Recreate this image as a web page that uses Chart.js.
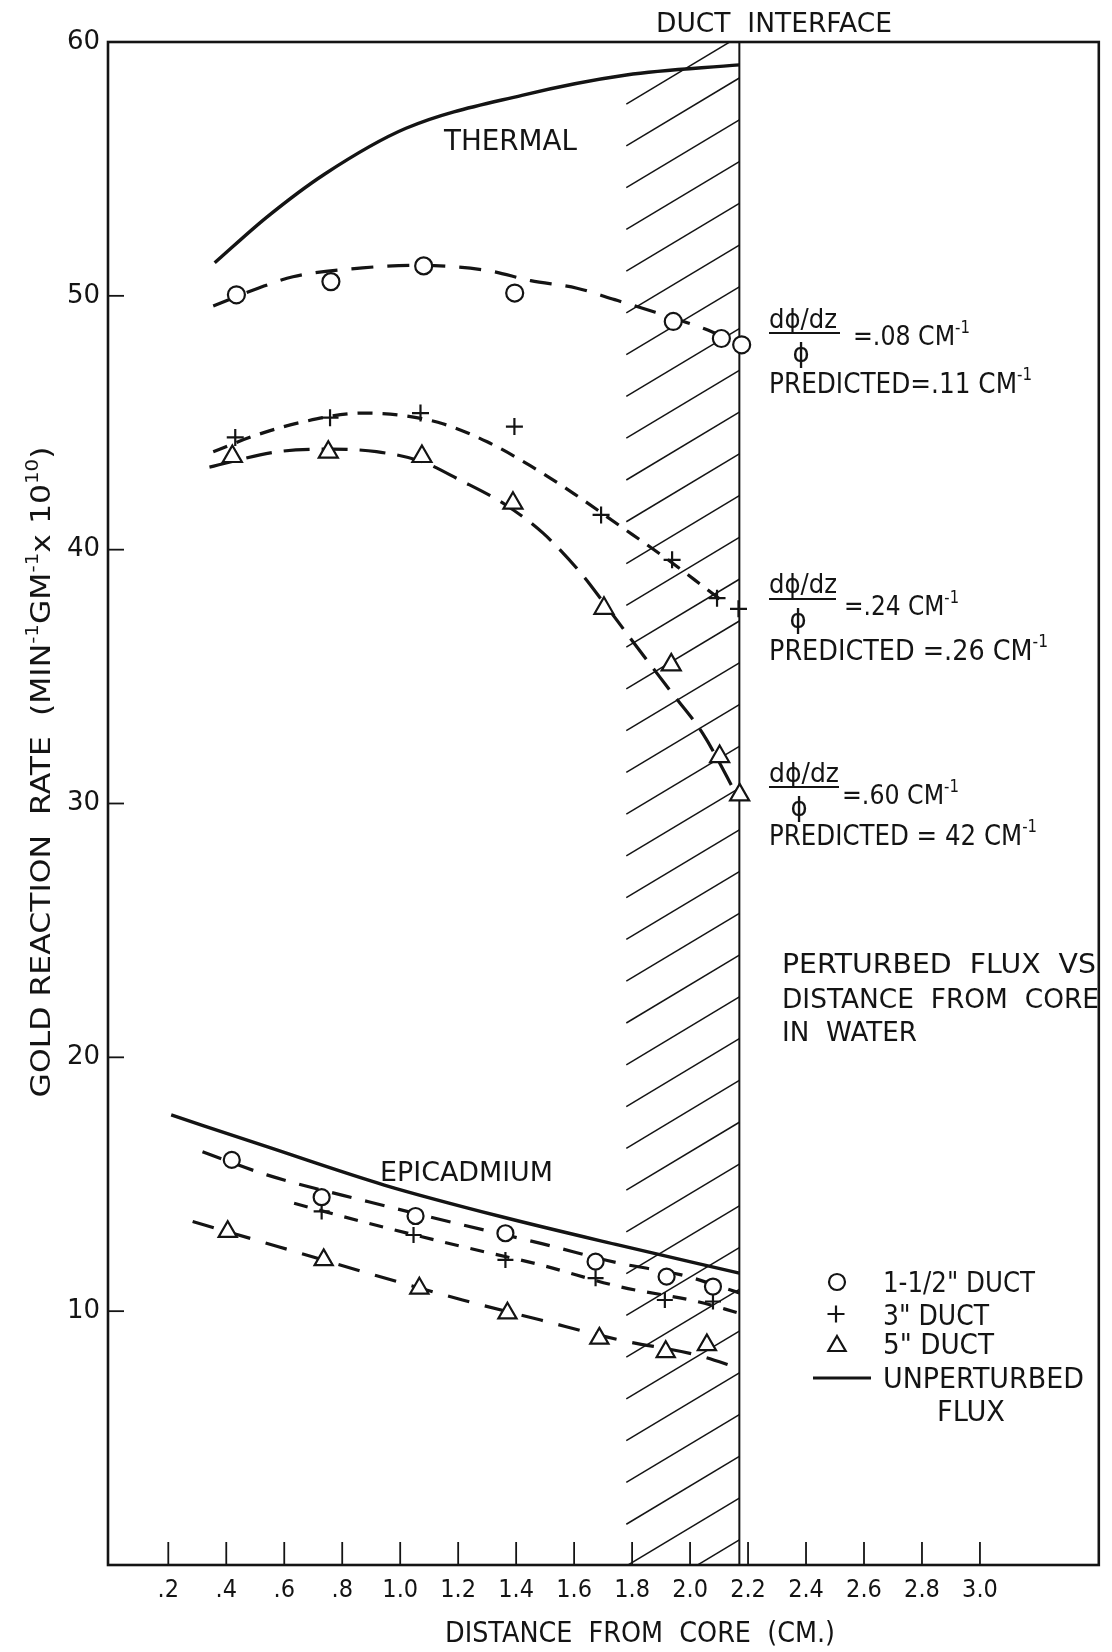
<!DOCTYPE html>
<html>
<head>
<meta charset="utf-8">
<script src="https://cdn.jsdelivr.net/npm/chart.js@4.4.1/dist/chart.umd.min.js"></script>
<style>
  html, body { margin: 0; padding: 0; background: #ffffff; }
  canvas { display: block; }
</style>
</head>
<body>
<canvas id="chart" width="1112" height="1652"></canvas>
<script>
// ---------------- axes ----------------
const xTickValues = [0.2, 0.4, 0.6, 0.8, 1.0, 1.2, 1.4, 1.6, 1.8, 2.0, 2.2, 2.4, 2.6, 2.8, 3.0];
const xTickLabels = ['.2', '.4', '.6', '.8', '1.0', '1.2', '1.4', '1.6', '1.8', '2.0', '2.2', '2.4', '2.6', '2.8', '3.0'];
const yTickValues = [10, 20, 30, 40, 50, 60];
const yTickLabels = ['10', '20', '30', '40', '50', '60'];
const ductInterfaceX = 2.17;   // cm
const hatchStartX = 1.78;      // cm

// ---------------- thermal ----------------
const thermalUnpertX = [0.36, 0.54, 0.74, 1.02, 1.42, 1.78, 2.17];
const thermalUnpertY = [51.3, 53.1, 54.8, 56.6, 57.9, 58.7, 59.1];

const thermalDuct15X = [0.435, 0.761, 1.081, 1.395, 1.942, 2.108, 2.178];
const thermalDuct15Y = [50.04, 50.56, 51.18, 50.11, 48.99, 48.32, 48.07];
const thermalFit15X = [0.355, 0.51, 0.63, 0.87, 1.05, 1.30, 1.45, 1.61, 1.74, 1.88, 2.05, 2.17];
const thermalFit15Y = [49.6, 50.3, 50.75, 51.1, 51.2, 51.0, 50.6, 50.3, 49.85, 49.35, 48.7, 48.1];

const thermalDuct3X = [0.431, 0.758, 1.070, 1.394, 1.693, 1.938, 2.093, 2.167];
const thermalDuct3Y = [44.42, 45.20, 45.38, 44.85, 41.37, 39.60, 38.09, 37.67];
const thermalFit3X = [0.355, 0.50, 0.67, 0.87, 1.0, 1.15, 1.30, 1.45, 1.60, 1.75, 1.90, 2.04, 2.12];
const thermalFit3Y = [43.86, 44.5, 45.05, 45.38, 45.3, 44.95, 44.25, 43.3, 42.2, 41.0, 39.8, 38.6, 37.9];

const thermalDuct5X = [0.421, 0.752, 1.075, 1.389, 1.703, 1.935, 2.102, 2.171];
const thermalDuct5Y = [43.67, 43.84, 43.67, 41.83, 37.69, 35.46, 31.85, 30.34];
const thermalFit5X = [0.342, 0.578, 0.761, 0.918, 1.075, 1.205, 1.363, 1.493, 1.624, 1.703, 1.807, 1.938, 2.043, 2.17];
const thermalFit5Y = [43.25, 43.86, 43.96, 43.86, 43.47, 42.75, 41.77, 40.65, 39.07, 37.9, 36.31, 34.35, 32.77, 30.14];

// ---------------- epicadmium ----------------
const epiUnpertX = [0.21, 0.54, 0.945, 1.35, 1.755, 2.17];
const epiUnpertY = [17.73, 16.48, 14.97, 13.72, 12.6, 11.5];

const epiDuct15X = [0.419, 0.729, 1.053, 1.363, 1.674, 1.919, 2.079];
const epiDuct15Y = [15.96, 14.49, 13.75, 13.07, 11.95, 11.36, 10.97];
const epiFit15X = [0.318, 0.54, 0.891, 1.215, 1.485, 1.755, 1.97, 2.17];
const epiFit15Y = [16.28, 15.37, 14.31, 13.4, 12.67, 11.89, 11.43, 10.72];

const epiDuct3X = [0.729, 1.046, 1.363, 1.674, 1.913, 2.079];
const epiDuct3Y = [13.93, 13.0, 12.02, 11.3, 10.44, 10.38];
const epiFit3X = [0.634, 0.891, 1.215, 1.485, 1.755, 2.024, 2.17];
const epiFit3Y = [14.25, 13.46, 12.54, 11.82, 10.97, 10.38, 9.92];

const epiDuct5X = [0.405, 0.736, 1.066, 1.37, 1.687, 1.916, 2.058];
const epiDuct5Y = [13.13, 12.02, 10.90, 9.92, 8.93, 8.40, 8.67];
const epiFit5X = [0.284, 0.58, 0.891, 1.215, 1.485, 1.755, 2.024, 2.17];
const epiFit5Y = [13.53, 12.54, 11.49, 10.44, 9.65, 8.87, 8.27, 7.75];

// ---------------- drawing ----------------
const INK = '#141414';
const FAMILY = "'DejaVu Sans', sans-serif";
const PLOT = { left: 108, top: 42, right: 1109, bottom: 1565 };

const zip = (xs, ys) => xs.map((x, i) => ({ x: x, y: ys[i] }));

function solid(xs, ys) {
  return { type: 'line', data: zip(xs, ys), borderColor: INK, borderWidth: 3.4,
           pointRadius: 0, cubicInterpolationMode: 'monotone', fill: false, order: 2 };
}
function dashed(xs, ys, dash) {
  return { type: 'line', data: zip(xs, ys), borderColor: INK, borderWidth: 3.2,
           borderDash: dash, borderCapStyle: 'butt', pointRadius: 0,
           cubicInterpolationMode: 'monotone', fill: false, order: 2 };
}
function marks(xs, ys, style, r) {
  return { type: 'scatter', data: zip(xs, ys), showLine: false, pointStyle: style,
           pointRadius: r, pointBorderWidth: 2.2, pointBorderColor: INK,
           pointBackgroundColor: '#ffffff', order: 0 };
}

function richWidth(ctx, segs, size) {
  let w = 0;
  for (const s of segs) {
    ctx.font = (s.sup ? Math.round(size * 0.62) : size) + 'px ' + FAMILY;
    w += ctx.measureText(s.t).width;
  }
  return w;
}
// text squeezed or stretched horizontally to a given width
function drawRich(ctx, segs, x, baseline, size, width, align) {
  const nat = richWidth(ctx, segs, size);
  const sx = width ? width / nat : 1;
  const total = nat * sx;
  const x0 = align === 'center' ? x - total / 2 : (align === 'right' ? x - total : x);
  ctx.save();
  ctx.translate(x0, baseline);
  ctx.scale(sx, 1);
  ctx.fillStyle = INK;
  ctx.textAlign = 'left';
  ctx.textBaseline = 'alphabetic';
  let cx = 0;
  for (const s of segs) {
    const fs = s.sup ? Math.round(size * 0.62) : size;
    ctx.font = fs + 'px ' + FAMILY;
    ctx.fillText(s.t, cx, s.sup ? -size * 0.45 : 0);
    cx += ctx.measureText(s.t).width;
  }
  ctx.restore();
}
const T = (t) => [{ t: t }];

const texts = [
  { segs: T('DUCT  INTERFACE'), x: 774, y: 32, size: 27, w: 236, align: 'center' },
  { segs: T('THERMAL'), x: 444, y: 150, size: 29, w: 133 },
  { segs: T('EPICADMIUM'), x: 380, y: 1181, size: 27, w: 173 },

  { segs: T('d\u03D5/dz'), x: 769, y: 328, size: 26, w: 68 },
  { segs: T('\u03D5'), x: 801, y: 362, size: 26, align: 'center' },
  { segs: [{ t: '=.08 CM' }, { t: '-1', sup: true }], x: 853, y: 345, size: 27, w: 117 },
  { segs: [{ t: 'PREDICTED=.11 CM' }, { t: '-1', sup: true }], x: 769, y: 393, size: 28, w: 263 },

  { segs: T('d\u03D5/dz'), x: 769, y: 593, size: 26, w: 68 },
  { segs: T('\u03D5'), x: 798, y: 628, size: 26, align: 'center' },
  { segs: [{ t: '=.24 CM' }, { t: '-1', sup: true }], x: 844, y: 615, size: 27, w: 115 },
  { segs: [{ t: 'PREDICTED =.26 CM' }, { t: '-1', sup: true }], x: 769, y: 660, size: 28, w: 279 },

  { segs: T('d\u03D5/dz'), x: 769, y: 782, size: 26, w: 70 },
  { segs: T('\u03D5'), x: 799, y: 816, size: 26, align: 'center' },
  { segs: [{ t: '=.60 CM' }, { t: '-1', sup: true }], x: 842, y: 804, size: 27, w: 117 },
  { segs: [{ t: 'PREDICTED = 42 CM' }, { t: '-1', sup: true }], x: 769, y: 845, size: 28, w: 268 },

  { segs: T('PERTURBED  FLUX  VS'), x: 782, y: 973, size: 26, w: 314 },
  { segs: T('DISTANCE  FROM  CORE'), x: 782, y: 1008, size: 26, w: 317 },
  { segs: T('IN  WATER'), x: 782, y: 1041, size: 26, w: 135 },

  { segs: T('1-1/2" DUCT'), x: 883, y: 1292, size: 28, w: 152 },
  { segs: T('3" DUCT'), x: 883, y: 1325, size: 28, w: 106 },
  { segs: T('5" DUCT'), x: 883, y: 1354, size: 28, w: 111 },
  { segs: T('UNPERTURBED'), x: 883, y: 1388, size: 28, w: 201 },
  { segs: T('FLUX'), x: 937, y: 1421, size: 28, w: 68 },

  { segs: T('DISTANCE  FROM  CORE  (CM.)'), x: 640, y: 1642, size: 28, w: 390, align: 'center' }
];

const fractionBars = [
  { x0: 769, x1: 840, y: 333 },
  { x0: 769, x1: 836, y: 599 },
  { x0: 769, x1: 839, y: 787 }
];

function drawMarker(ctx, style, x, y, r) {
  ctx.save();
  ctx.strokeStyle = INK; ctx.fillStyle = '#fff'; ctx.lineWidth = 2.2;
  ctx.beginPath();
  if (style === 'circle') {
    ctx.arc(x, y, r, 0, Math.PI * 2); ctx.fill(); ctx.stroke();
  } else if (style === 'cross') {
    ctx.moveTo(x - r, y); ctx.lineTo(x + r, y); ctx.moveTo(x, y - r); ctx.lineTo(x, y + r); ctx.stroke();
  } else {
    ctx.moveTo(x, y - r);
    ctx.lineTo(x + r * Math.sin(Math.PI * 2 / 3), y - r * Math.cos(Math.PI * 2 / 3));
    ctx.lineTo(x + r * Math.sin(Math.PI * 4 / 3), y - r * Math.cos(Math.PI * 4 / 3));
    ctx.closePath(); ctx.fill(); ctx.stroke();
  }
  ctx.restore();
}

const sheet = {
  id: 'sheet',
  beforeDatasetsDraw(chart) {
    const { ctx, chartArea: a, scales: { x } } = chart;
    const xR = x.getPixelForValue(ductInterfaceX);
    const xL = x.getPixelForValue(hatchStartX);
    ctx.save();
    ctx.beginPath(); ctx.rect(a.left, a.top, a.right - a.left, a.bottom - a.top); ctx.clip();
    // hatched duct wall
    ctx.strokeStyle = INK; ctx.lineWidth = 1.5;
    const step = 41.77, rise = 0.6;
    for (let k = -1; k <= 37; k++) {
      const yR = a.top + 36 + k * step;
      ctx.beginPath();
      ctx.moveTo(xL, yR + rise * (xR - xL));
      ctx.lineTo(xR, yR);
      ctx.stroke();
    }
    // duct interface
    ctx.lineWidth = 2;
    ctx.beginPath(); ctx.moveTo(xR, a.top); ctx.lineTo(xR, a.bottom); ctx.stroke();
    ctx.restore();
  },
  afterDatasetsDraw(chart) {
    const { ctx, chartArea: a, scales: { x, y } } = chart;
    ctx.save();
    // frame
    ctx.strokeStyle = INK; ctx.lineWidth = 2.6;
    ctx.strokeRect(a.left, a.top, a.right - a.left, a.bottom - a.top);
    // inward tick marks
    ctx.lineWidth = 1.8;
    for (const v of yTickValues) {
      if (v >= 60) continue;
      const py = y.getPixelForValue(v);
      ctx.beginPath(); ctx.moveTo(a.left, py); ctx.lineTo(a.left + 16, py); ctx.stroke();
    }
    for (const v of xTickValues) {
      const px = x.getPixelForValue(v);
      ctx.beginPath(); ctx.moveTo(px, a.bottom); ctx.lineTo(px, a.bottom - 23); ctx.stroke();
    }
    // fraction bars
    ctx.lineWidth = 2;
    for (const b of fractionBars) {
      ctx.beginPath(); ctx.moveTo(b.x0, b.y); ctx.lineTo(b.x1, b.y); ctx.stroke();
    }
    ctx.restore();

    for (const t of texts) drawRich(ctx, t.segs, t.x, t.y, t.size, t.w, t.align);

    // y axis title, read bottom to top
    ctx.save();
    ctx.translate(40, 772);
    ctx.rotate(-Math.PI / 2);
    drawRich(ctx, [{ t: 'GOLD REACTION  RATE  (MIN' }, { t: '-1', sup: true }, { t: 'GM' },
                   { t: '-1', sup: true }, { t: 'x 10' }, { t: '10', sup: true }, { t: ')' }],
             0, 10, 27, 651, 'center');
    ctx.restore();

    // key
    drawMarker(ctx, 'circle', 837, 1282, 8);
    drawMarker(ctx, 'cross', 836, 1314, 8.5);
    drawMarker(ctx, 'triangle', 837, 1346, 10);
    ctx.save();
    ctx.strokeStyle = INK; ctx.lineWidth = 3;
    ctx.beginPath(); ctx.moveTo(813, 1378); ctx.lineTo(871, 1378); ctx.stroke();
    ctx.restore();
  }
};

const chart = new Chart(document.getElementById('chart'), {
  data: {
    datasets: [
      marks(thermalDuct15X, thermalDuct15Y, 'circle', 8.5),
      marks(thermalDuct3X, thermalDuct3Y, 'cross', 8.5),
      marks(thermalDuct5X, thermalDuct5Y, 'triangle', 11),
      marks(epiDuct15X, epiDuct15Y, 'circle', 8),
      marks(epiDuct3X, epiDuct3Y, 'cross', 8),
      marks(epiDuct5X, epiDuct5Y, 'triangle', 10.5),
      solid(thermalUnpertX, thermalUnpertY),
      solid(epiUnpertX, epiUnpertY),
      dashed(thermalFit15X, thermalFit15Y, [22, 14]),
      dashed(thermalFit3X, thermalFit3Y, [15, 10]),
      dashed(thermalFit5X, thermalFit5Y, [26, 12]),
      dashed(epiFit15X, epiFit15Y, [20, 14]),
      dashed(epiFit3X, epiFit3Y, [14, 12]),
      dashed(epiFit5X, epiFit5Y, [22, 16])
    ]
  },
  options: {
    responsive: false,
    animation: false,
    devicePixelRatio: 1,
    layout: { padding: { top: PLOT.top, right: 1112 - PLOT.right, left: 0, bottom: 0 } },
    plugins: { legend: { display: false }, tooltip: { enabled: false } },
    scales: {
      x: {
        type: 'linear', min: -0.008, max: 3.41,
        grid: { display: false, drawTicks: false },
        border: { display: false },
        afterBuildTicks: (s) => { s.ticks = xTickValues.map(v => ({ value: v })); },
        afterFit: (s) => { s.height = 1652 - PLOT.bottom; s.paddingLeft = 0; s.paddingRight = 0; },
        ticks: {
          autoSkip: false, maxRotation: 0, padding: 10, color: INK,
          font: { family: "'DejaVu Sans Condensed', 'DejaVu Sans', sans-serif", size: 25 },
          callback: (v, i) => xTickLabels[i]
        }
      },
      y: {
        type: 'linear', min: 0, max: 60,
        grid: { display: false, drawTicks: false },
        border: { display: false },
        afterBuildTicks: (s) => { s.ticks = yTickValues.map(v => ({ value: v })); },
        afterFit: (s) => { s.width = PLOT.left; s.paddingTop = 0; s.paddingBottom = 0; },
        ticks: {
          padding: 8, color: INK,
          font: { family: "'DejaVu Sans', sans-serif", size: 26 },
          callback: (v, i) => yTickLabels[i]
        }
      }
    }
  },
  plugins: [sheet]
});

// pin the plot frame to its intended place on the sheet
const pad = chart.options.layout.padding;
const dr = chart.chartArea.right - PLOT.right;
const db = chart.chartArea.bottom - PLOT.bottom;
const dt = chart.chartArea.top - PLOT.top;
if (dr || db || dt) {
  pad.right += dr;
  pad.top -= dt;
  chart.update();
}
</script>
</body>
</html>
